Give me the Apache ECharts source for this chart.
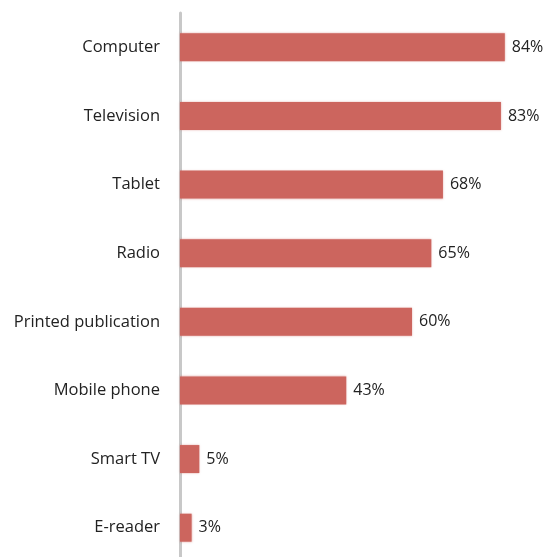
<!DOCTYPE html>
<html>
<head>
<meta charset="utf-8">
<script src="https://cdn.jsdelivr.net/npm/echarts@6/dist/echarts.min.js"></script>
<style>
  html, body { margin: 0; padding: 0; background: #fff; overflow: hidden; }
  #chart { width: 549px; height: 568px; }
</style>
</head>
<body>
<div id="chart"></div>
<script>
// devices, top to bottom
var categories = ['Computer', 'Television', 'Tablet', 'Radio', 'Printed publication', 'Mobile phone', 'Smart TV', 'E-reader'];
var values = [84, 83, 68, 65, 60, 43, 5, 3];

var myChart = echarts.init(document.getElementById('chart'));
var option = {
    animation: false,
    grid: {
        left: 180,
        width: 348,
        top: 13,
        height: 549
    },
    xAxis: {
        type: 'value',
        min: 0,
        max: 90,
        show: false
    },
    yAxis: {
        type: 'category',
        inverse: true,
        data: categories,
        axisTick: { show: false },
        axisLine: {
            lineStyle: { color: '#c8c8c8', width: 3 }
        },
        axisLabel: {
            margin: 20,
            color: '#222',
            fontSize: 16.5,
            fontFamily: 'Open Sans'
        }
    },
    series: [{
        type: 'bar',
        data: values,
        barWidth: 28,
        itemStyle: {
            color: '#cc655e',
            shadowColor: 'rgba(204,101,94,0.5)',
            shadowBlur: 2
        },
        label: {
            show: true,
            position: 'right',
            distance: 7,
            formatter: '{c}%',
            color: '#222',
            fontSize: 16,
            fontFamily: 'Open Sans'
        }
    }]
};
myChart.setOption(option, true);
</script>
</body>
</html>
